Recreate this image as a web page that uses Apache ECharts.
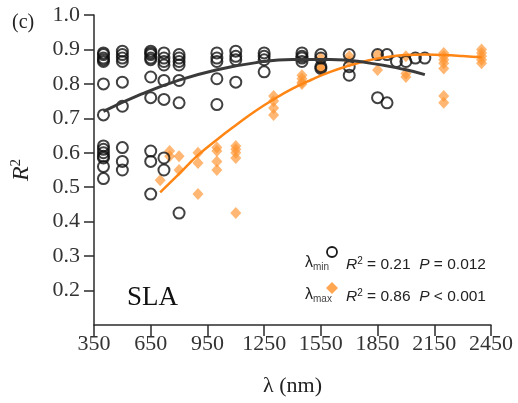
<!DOCTYPE html>
<html>
<head>
<meta charset="utf-8">
<script src="https://cdn.jsdelivr.net/npm/echarts@6/dist/echarts.min.js"></script>
<style>
  html, body { margin: 0; padding: 0; background: #fff; }
  #chart { width: 518px; height: 403px; }
</style>
</head>
<body>
<div id="chart"></div>
<script>
// Wavelength tick labels (nm) and R² tick labels
const xTicks = [350, 650, 950, 1250, 1550, 1850, 2150, 2450];
const yTicks = [0.2, 0.3, 0.4, 0.5, 0.6, 0.7, 0.8, 0.9, 1.0];

// λmin: [wavelength (nm), R²]
const minPoints = [
  [400, 0.89], [400, 0.885], [400, 0.875], [400, 0.87], [400, 0.865], [400, 0.80], [400, 0.71],
  [400, 0.62], [400, 0.61], [400, 0.60], [400, 0.59], [400, 0.585], [400, 0.56], [400, 0.525],
  [500, 0.895], [500, 0.885], [500, 0.875], [500, 0.865], [500, 0.805], [500, 0.735],
  [500, 0.615], [500, 0.575], [500, 0.55],
  [650, 0.895], [650, 0.89], [650, 0.885], [650, 0.875], [650, 0.87], [650, 0.82], [650, 0.76],
  [650, 0.605], [650, 0.575], [650, 0.48],
  [720, 0.89], [720, 0.875], [720, 0.865], [720, 0.855], [720, 0.81], [720, 0.755], [720, 0.585], [720, 0.55],
  [800, 0.885], [800, 0.875], [800, 0.865], [800, 0.855], [800, 0.81], [800, 0.745], [800, 0.425],
  [1000, 0.89], [1000, 0.875], [1000, 0.865], [1000, 0.815], [1000, 0.74],
  [1100, 0.895], [1100, 0.88], [1100, 0.87], [1100, 0.805],
  [1250, 0.89], [1250, 0.88], [1250, 0.87], [1250, 0.835],
  [1450, 0.89], [1450, 0.88], [1450, 0.875], [1450, 0.865],
  [1550, 0.885], [1550, 0.875], [1550, 0.85], [1550, 0.845],
  [1700, 0.885], [1700, 0.85], [1700, 0.825],
  [1850, 0.885], [1850, 0.76],
  [1900, 0.885], [1900, 0.745],
  [1950, 0.865], [2000, 0.865], [2050, 0.875], [2100, 0.875]
];

// λmax: [wavelength (nm), R²]
const maxPoints = [
  [700, 0.52],
  [750, 0.605], [750, 0.59],
  [800, 0.59], [800, 0.55],
  [900, 0.60], [900, 0.57], [900, 0.48],
  [1000, 0.615], [1000, 0.605], [1000, 0.575], [1000, 0.55],
  [1100, 0.62], [1100, 0.61], [1100, 0.60], [1100, 0.585], [1100, 0.425],
  [1300, 0.765], [1300, 0.75], [1300, 0.73], [1300, 0.71],
  [1450, 0.825], [1450, 0.815], [1450, 0.805], [1450, 0.80],
  [1550, 0.875], [1550, 0.85], [1550, 0.845],
  [1700, 0.88], [1700, 0.865],
  [1850, 0.885], [1850, 0.84],
  [2000, 0.88], [2000, 0.83], [2000, 0.82],
  [2200, 0.89], [2200, 0.88], [2200, 0.87], [2200, 0.86], [2200, 0.845], [2200, 0.765], [2200, 0.745],
  [2400, 0.90], [2400, 0.89], [2400, 0.88], [2400, 0.87], [2400, 0.86]
];

// Fitted trend curves, sampled along the fit
const minFit = [
  [400, 0.72], [600, 0.770], [800, 0.811], [1000, 0.841], [1200, 0.861], [1400, 0.871],
  [1600, 0.871], [1800, 0.861], [2000, 0.841], [2100, 0.827]
];
const maxFit = [
  [700, 0.485], [800, 0.539], [900, 0.593], [1000, 0.638], [1100, 0.680], [1200, 0.720],
  [1300, 0.755], [1400, 0.786], [1500, 0.812], [1600, 0.835], [1700, 0.853], [1800, 0.868],
  [1900, 0.878], [2000, 0.884], [2100, 0.885], [2200, 0.884], [2300, 0.881], [2400, 0.877]
];

const SERIF = 'Liberation Serif';
const SANS = 'Liberation Sans';
const ORANGE_LINE = '#ff8514';
const ORANGE_PT = 'rgba(255, 150, 50, 0.85)';
const INK = '#2b2b2b';

const tickLabelStyle = {
  fontFamily: SERIF, fontSize: 22, color: '#333'
};

const chart = echarts.init(document.getElementById('chart'));

chart.setOption({
  animation: false,
  backgroundColor: '#fff',
  textStyle: { fontFamily: SERIF },
  grid: { left: 94, right: 27, top: 15, bottom: 78 },
  xAxis: {
    type: 'value',
    min: 350,
    max: 2450,
    name: 'λ (nm)',
    nameLocation: 'middle',
    nameGap: 50,
    nameTextStyle: { fontFamily: SERIF, fontSize: 22, color: '#222' },
    axisLine: { lineStyle: { color: INK, width: 1.5 } },
    axisTick: { length: 11, lineStyle: { color: INK, width: 1.5 }, customValues: xTicks },
    axisLabel: Object.assign({
      customValues: xTicks,
      margin: 8,
      formatter: v => String(v)
    }, tickLabelStyle),
    splitLine: { show: false }
  },
  yAxis: {
    type: 'value',
    min: 0.1,
    max: 1.0,
    interval: 0.1,
    name: '{r|R}{s|2}',
    nameLocation: 'middle',
    nameRotate: 90,
    nameGap: 60,
    nameTextStyle: {
      color: '#222',
      rich: {
        r: { fontFamily: SERIF, fontStyle: 'italic', fontSize: 24, color: '#222' },
        s: { fontFamily: SERIF, fontSize: 15, color: '#222', verticalAlign: 'top', padding: [0, 0, 10, 0] }
      }
    },
    axisLine: { lineStyle: { color: INK, width: 1.5 } },
    axisTick: { length: 10, lineStyle: { color: INK, width: 1.5 }, customValues: yTicks },
    axisLabel: Object.assign({
      margin: 14,
      formatter: v => (v < 0.15 ? '' : v.toFixed(1))
    }, tickLabelStyle),
    splitLine: { show: false }
  },
  series: [
    {
      name: 'λmax',
      type: 'scatter',
      data: maxPoints,
      symbol: 'diamond',
      symbolSize: [11, 12],
      itemStyle: { color: ORANGE_PT },
      z: 2
    },
    {
      name: 'λmin',
      type: 'scatter',
      data: minPoints,
      symbol: 'circle',
      symbolSize: 11,
      itemStyle: { color: 'rgba(255,255,255,0)', borderColor: '#111', borderWidth: 2 },
      z: 3
    },
    {
      type: 'line',
      data: maxFit,
      smooth: true,
      showSymbol: false,
      lineStyle: { color: ORANGE_LINE, width: 2.5 },
      z: 4
    },
    {
      type: 'line',
      data: minFit,
      smooth: true,
      showSymbol: false,
      lineStyle: { color: '#3a3a3a', width: 3 },
      z: 4
    }
  ],
  graphic: [
    {
      type: 'text', left: 12, top: 13,
      style: { text: '(c)', font: '20px "Liberation Serif"', fill: '#222' }
    },
    {
      type: 'text', left: 127, top: 284,
      style: { text: 'SLA', font: '27px "Liberation Serif"', fill: '#111' }
    },
    // legend: λmin
    {
      type: 'text', left: 305, top: 255,
      style: {
        text: '{l|λ}{s|min}',
        rich: {
          l: { fontFamily: SANS, fontSize: 16, fill: '#222' },
          s: { fontFamily: SANS, fontSize: 10, fill: '#444', verticalAlign: 'bottom', padding: [8, 0, 0, 0] }
        }
      }
    },
    {
      type: 'circle', shape: { cx: 332, cy: 252, r: 5 },
      style: { fill: 'none', stroke: '#1a1a1a', lineWidth: 1.8 }
    },
    {
      type: 'text', left: 346, top: 256,
      style: {
        text: '{i|R}{p|2}{n| = 0.21  }{i|P}{n| = 0.012}',
        rich: {
          i: { fontFamily: SANS, fontStyle: 'italic', fontSize: 15.5, fill: '#222' },
          p: { fontFamily: SANS, fontSize: 10, fill: '#222', verticalAlign: 'top', padding: [0, 0, 7, 0] },
          n: { fontFamily: SANS, fontSize: 15.5, fill: '#222' }
        }
      }
    },
    // legend: λmax
    {
      type: 'text', left: 305, top: 287,
      style: {
        text: '{l|λ}{s|max}',
        rich: {
          l: { fontFamily: SANS, fontSize: 16, fill: '#222' },
          s: { fontFamily: SANS, fontSize: 10, fill: '#444', verticalAlign: 'bottom', padding: [8, 0, 0, 0] }
        }
      }
    },
    {
      type: 'polygon', shape: { points: [[332, 282], [338, 288], [332, 294], [326, 288]] },
      style: { fill: ORANGE_PT }
    },
    {
      type: 'text', left: 346, top: 288,
      style: {
        text: '{i|R}{p|2}{n| = 0.86  }{i|P}{n| < 0.001}',
        rich: {
          i: { fontFamily: SANS, fontStyle: 'italic', fontSize: 15.5, fill: '#222' },
          p: { fontFamily: SANS, fontSize: 10, fill: '#222', verticalAlign: 'top', padding: [0, 0, 7, 0] },
          n: { fontFamily: SANS, fontSize: 15.5, fill: '#222' }
        }
      }
    }
  ]
});
</script>
</body>
</html>
